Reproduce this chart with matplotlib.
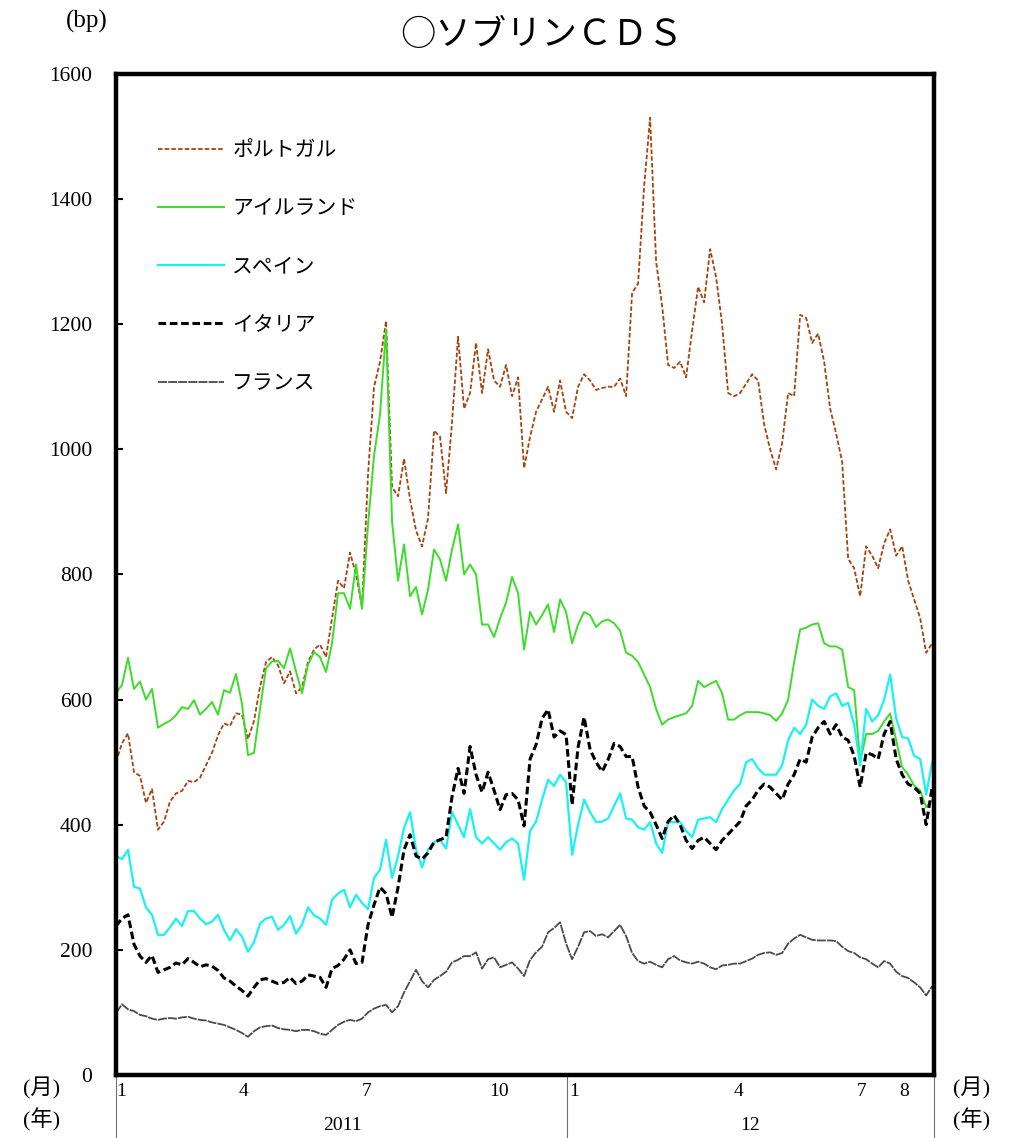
import numpy as np
import matplotlib.pyplot as plt

plt.rcParams['font.family'] = ['Liberation Serif', 'Noto Sans CJK JP']

# sovereign CDS spreads (bp), sampled at even steps from Jan 2011 to Aug 2012
portugal = [
    500, 530, 546, 484, 478, 435, 457, 392, 405, 437,
    450, 454, 470, 468, 475, 495, 515, 543, 562, 558,
    578, 576, 537, 566, 620, 660, 668, 655, 626, 645,
    610, 620, 660, 680, 688, 668, 730, 790, 778, 835,
    800, 748, 960, 1100, 1140, 1205, 940, 925, 985, 920,
    870, 845, 890, 1030, 1020, 930, 1044, 1180, 1065, 1090,
    1170, 1090, 1160, 1110, 1100, 1135, 1085, 1115, 970, 1020,
    1060, 1080, 1100, 1060, 1110, 1060, 1050, 1100, 1120, 1110,
    1095, 1098, 1100, 1100, 1113, 1085, 1250, 1265, 1420, 1530,
    1300, 1230, 1135, 1130, 1140, 1115, 1190, 1260, 1235, 1320,
    1275, 1200, 1090, 1085, 1090, 1105, 1120, 1110, 1040, 1000,
    968, 1010, 1090, 1085, 1215, 1210, 1170, 1185, 1140, 1065,
    1025, 980, 825, 810, 765, 845, 830, 810, 850, 872,
    830, 845, 790, 760, 730, 675, 690,
]
ireland = [
    611, 623, 667, 617, 629, 600, 617, 555, 561, 566,
    575, 588, 585, 599, 576, 585, 596, 576, 615, 611,
    641, 593, 511, 515, 585, 650, 661, 662, 650, 682,
    645, 610, 656, 676, 668, 644, 690, 770, 770, 745,
    816, 745, 880, 990, 1056, 1192, 885, 790, 848, 765,
    780, 736, 776, 840, 824, 790, 840, 880, 800, 816,
    800, 720, 720, 700, 730, 755, 796, 770, 680, 740,
    720, 735, 752, 708, 760, 740, 690, 720, 740, 735,
    716, 725, 728, 722, 710, 675, 670, 660, 640, 620,
    585, 560, 568, 572, 575, 578, 590, 630, 620, 625,
    630, 610, 568, 568, 575, 580, 580, 580, 578, 575,
    566, 578, 600, 660, 712, 715, 720, 722, 690, 685,
    685, 680, 620, 615, 500, 545, 545, 550, 565, 578,
    535, 492, 480, 462, 455, 428, 440,
]
spain = [
    350, 345, 360, 301, 298, 268, 256, 224, 224, 236,
    250, 238, 262, 262, 250, 241, 245, 256, 232, 215,
    233, 221, 197, 212, 242, 250, 253, 232, 240, 254,
    226, 240, 268, 255, 250, 240, 280, 290, 296, 268,
    288, 275, 265, 315, 328, 376, 315, 350, 395, 420,
    360, 332, 360, 372, 376, 362, 420, 400, 380, 425,
    380, 370, 380, 370, 360, 372, 378, 370, 312, 390,
    405, 440, 472, 462, 480, 468, 352, 400, 440, 420,
    404, 405, 410, 430, 450, 410, 408, 396, 392, 404,
    370, 355, 404, 404, 404, 390, 380, 408, 410, 412,
    404, 425, 440, 455, 465, 500, 505, 490, 480, 480,
    480, 495, 535, 555, 545, 560, 600, 590, 585, 605,
    610, 590, 595, 560, 495, 585, 565, 575, 600, 640,
    570, 540, 538, 510, 505, 448, 500,
]
italy = [
    238, 250, 256, 209, 190, 180, 191, 164, 168, 172,
    179, 176, 186, 180, 173, 176, 174, 167, 155, 150,
    142, 135, 126, 140, 152, 154, 150, 146, 148, 156,
    146, 150, 160, 158, 156, 140, 170, 175, 185, 200,
    178, 180, 240, 272, 300, 290, 252, 300, 360, 384,
    350, 345, 355, 372, 376, 380, 445, 490, 450, 525,
    480, 452, 484, 455, 424, 448, 450, 440, 398, 505,
    528, 570, 584, 540, 550, 544, 432, 524, 572, 520,
    500, 485, 504, 530, 525, 509, 509, 460, 430, 420,
    400, 378, 405, 415, 400, 375, 362, 375, 380, 370,
    360, 375, 385, 395, 405, 430, 440, 455, 465, 460,
    450, 440, 465, 480, 505, 500, 540, 555, 565, 545,
    560, 540, 535, 510, 460, 515, 512, 505, 545, 565,
    505, 480, 465, 460, 450, 400, 460,
]
france = [
    99, 113, 105, 102, 96, 94, 90, 88, 90, 91,
    90, 92, 93, 90, 88, 87, 84, 82, 80, 76,
    72, 67, 61, 70, 76, 78, 79, 75, 73, 72,
    70, 72, 72, 70, 66, 64, 72, 80, 85, 88,
    86, 90, 100, 106, 110, 112, 100, 110, 132, 150,
    168, 150, 140, 152, 158, 165, 180, 184, 190, 190,
    196, 170, 185, 188, 172, 176, 180, 170, 158, 184,
    196, 205, 228, 235, 244, 210, 185, 205, 228, 230,
    222, 225, 220, 230, 240, 222, 195, 182, 178, 181,
    176, 172, 185, 190, 183, 180, 178, 181, 178, 172,
    169, 175, 176, 178, 178, 182, 186, 192, 195, 196,
    192, 195, 210, 218, 224, 220, 216, 215, 215, 215,
    214, 205, 198, 195, 188, 185, 178, 172, 182, 178,
    165, 158, 155, 148, 140, 127, 142,
]

names = ['ポルトガル', 'アイルランド', 'スペイン', 'イタリア', 'フランス']
month_labels = ['1', '4', '7', '10', '1', '4', '7', '8']
month_pos = [0.8, 21.3, 41.8, 63.8, 76.3, 103.8, 124.3, 131.3]
year_labels = ['2011', '12']
year_pos = [37.7, 105.7]
year_breaks = [0, 75.2, 136.3]

fig = plt.figure(figsize=(10.12, 11.38), dpi=100)
ax = fig.add_axes([0.1146, 0.0554, 0.8083, 0.8796])

x = np.arange(len(portugal))
ax.plot(x, portugal, color='#A8420F', lw=1.3, ls=(0, (2.5, 1.2)), label=names[0])
ax.plot(x, ireland, color='#3CDC2A', lw=1.4, label=names[1])
ax.plot(x, spain, color='#18F2F2', lw=1.6, label=names[2])
ax.plot(x, italy, color='black', lw=2.2, ls=(0, (2.5, 1.2)), label=names[3])
ax.plot(x, france, color='#4A4A4A', lw=1.3, ls=(0, (5, 0.6)), label=names[4])

ax.set_xlim(0, 136.3)
ax.set_ylim(0, 1600)
ax.set_yticks(range(0, 1601, 200))
ax.set_xticks([])
ax.tick_params(axis='y', direction='in', length=5, width=1.5, pad=17, labelsize=15.5)
for s in ax.spines.values():
    s.set_linewidth(3.2)

leg = ax.legend(loc='upper left', bbox_to_anchor=(0.051, 0.935), frameon=False,
                prop={'family': 'Noto Sans CJK JP', 'size': 15},
                handlelength=3.2, handletextpad=0.38, labelspacing=1.74,
                borderaxespad=0, borderpad=0)

# month / year labels under the axis
tr = ax.get_xaxis_transform()
for p, m in zip(month_pos, month_labels):
    ax.text(p, -0.017, m, transform=tr, ha='center', va='center', fontsize=14)
for p, yl in zip(year_pos, year_labels):
    ax.text(p, -0.050, yl, transform=tr, ha='center', va='center', fontsize=14)
for b in year_breaks:
    ax.plot([b, b], [0, -0.07], transform=tr, color='#707070', lw=0.8, clip_on=False)

jp = ['Liberation Serif', 'Noto Sans CJK JP']
fig.text(42 / 1012, 1 - 1088 / 1138, '(月)', ha='center', va='center', fontsize=16, family=jp)
fig.text(42 / 1012, 1 - 1120 / 1138, '(年)', ha='center', va='center', fontsize=16, family=jp)
fig.text(972 / 1012, 1 - 1088 / 1138, '(月)', ha='center', va='center', fontsize=16, family=jp)
fig.text(972 / 1012, 1 - 1120 / 1138, '(年)', ha='center', va='center', fontsize=16, family=jp)
fig.text(87 / 1012, 1 - 21 / 1138, '(bp)', ha='center', va='center', fontsize=18)

fig.text(542 / 1012, 1 - 35 / 1138, '○ソブリンＣＤＳ', ha='center', va='center',
         fontsize=25.5, family='Noto Sans CJK JP')

fig.savefig('out.png', dpi=100)
